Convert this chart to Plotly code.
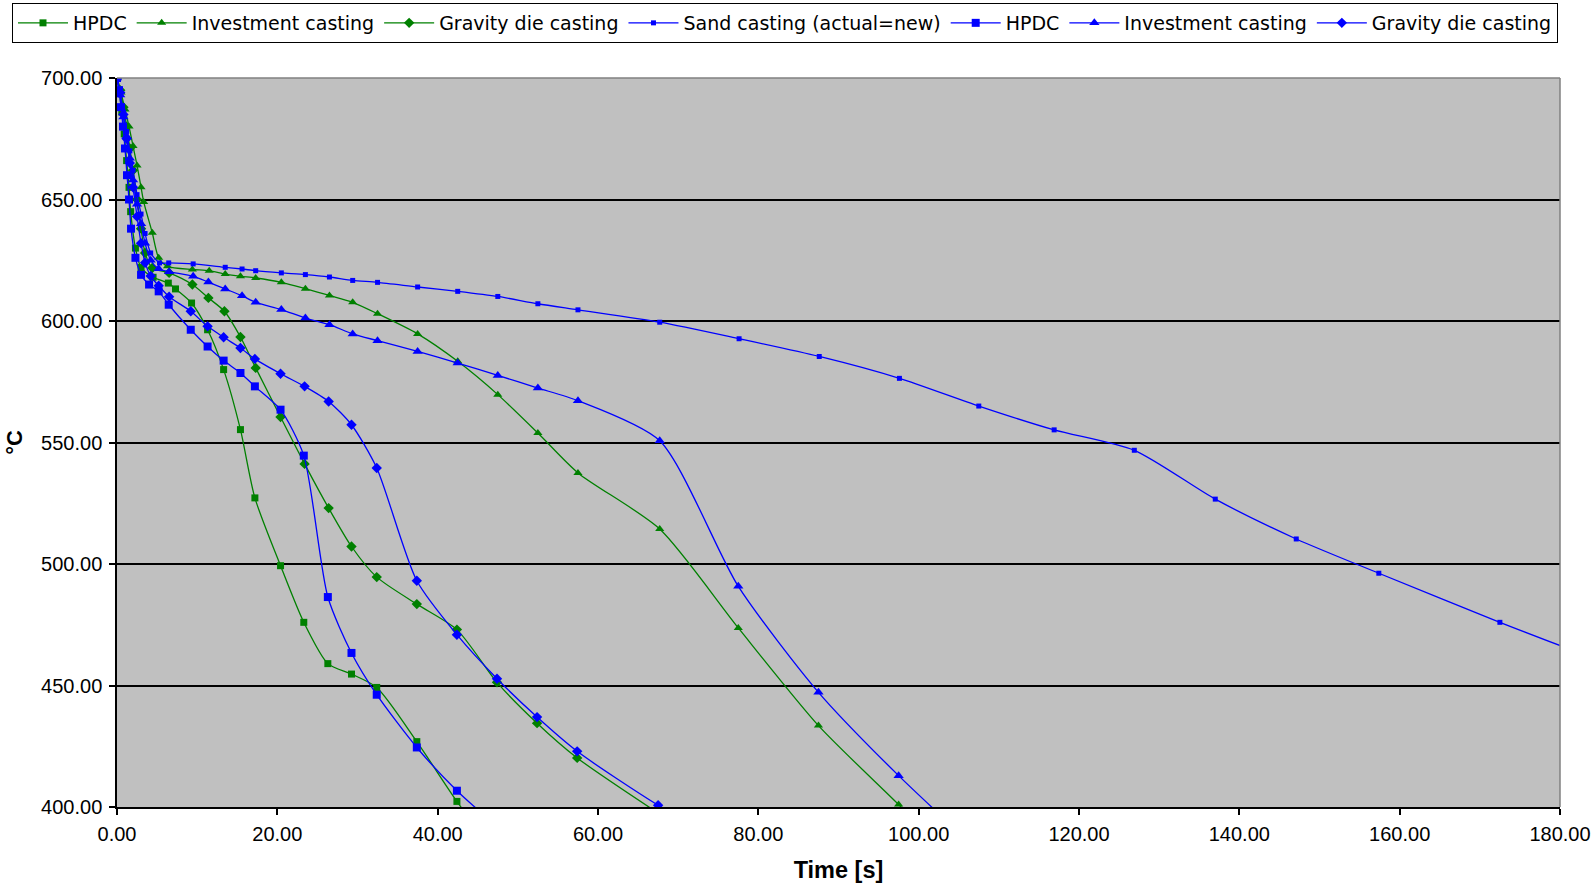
import plotly.graph_objects as go

# ---------------- data (time [s], temperature [°C]) ----------------
# Green series
g_hpdc_t = [0, 0.3, 0.6, 0.9, 1.2, 1.5, 1.7, 2.3, 3.0, 4.5, 6.4, 7.3, 9.3, 11.3, 13.3, 15.4, 17.2,
            20.4, 23.3, 26.3, 29.25, 32.4, 37.4, 42.4, 47.4]
g_hpdc_T = [700, 694, 686, 677, 666, 655, 645, 630, 622, 618, 615.6, 613.2, 607.4, 596.4, 580, 555.3, 527.2,
            499.3, 476, 459, 454.7, 449.2, 426.9, 402.3, 380]

g_inv_t = [0, 0.5, 1.0, 1.5, 2.0, 2.5, 3.0, 3.33, 4.4, 5.2, 6.3, 9.4, 11.5, 13.5, 15.4, 17.3, 20.5, 23.5,
           26.5, 29.4, 32.5, 37.5, 42.5, 47.5, 52.5, 57.5, 67.7, 77.5, 87.5, 97.5, 107.5]
g_inv_T = [700, 694, 687, 680, 672, 664, 655, 649, 636.3, 626, 622.5, 621.2, 620.7, 619.3, 618.4, 617.7, 615.9, 613.3,
           610.5, 607.7, 603, 594.7, 583.4, 569.7, 553.9, 537.5, 514.4, 473.7, 433.5, 401, 368]

g_grav_t = [0, 0.4, 0.8, 1.2, 1.6, 2.0, 2.5, 3.0, 3.5, 4.4, 6.5, 9.4, 11.4, 13.4, 15.4, 17.3, 20.4, 23.4,
            26.4, 29.25, 32.4, 37.4, 42.4, 47.4, 52.4, 57.4, 67.5]
g_grav_T = [700, 695, 688, 680, 671, 662, 650, 638, 628, 621.8, 619.8, 615, 609.5, 604, 593.4, 580.7, 560.5, 541.2,
            523, 507.2, 494.6, 483.5, 473, 451.3, 434.5, 420.2, 397.5]

# Blue series
sand_t = [0, 0.4, 0.8, 1.2, 1.6, 2.0, 2.5, 3.0, 3.5, 4.2, 5.3, 6.45, 9.5, 13.5, 15.6, 17.3, 20.5, 23.5, 26.5,
          29.4, 32.5, 37.5, 42.5, 47.5, 52.5, 57.5, 67.7, 77.6, 87.6, 97.6, 107.5, 116.9, 126.9, 137.0, 147.1,
          157.4, 172.5, 187.5]
sand_T = [700, 693, 686, 678, 670, 662, 652, 644, 636, 628, 623.9, 623.9, 623.5, 622.1, 621.4, 620.7, 619.8, 619.1, 618.1,
          616.7, 615.9, 614, 612.2, 610.1, 607.1, 604.6, 599.5, 592.7, 585.4, 576.4, 565, 555.2, 546.8, 526.7, 510.3,
          496.2, 476, 457]

b_hpdc_t = [0, 0.25, 0.5, 0.75, 1.0, 1.25, 1.5, 1.75, 2.3, 3.0, 4.0, 5.2, 6.45, 9.2, 11.3, 13.3, 15.4, 17.2,
            20.4, 23.3, 26.3, 29.25, 32.4, 37.4, 42.4, 47.4]
b_hpdc_T = [700, 695, 688, 680, 671, 660, 650, 638, 626, 619, 615, 612.2, 606.7, 596.4, 589.5, 583.7, 578.6, 573.1,
            563.5, 544.6, 486.4, 463.4, 446.2, 424.5, 406.7, 392]

b_inv_t = [0, 0.4, 0.8, 1.2, 1.6, 2.0, 2.5, 3.0, 3.5, 4.2, 5.2, 6.5, 9.5, 11.4, 13.5, 15.6, 17.3, 20.5, 23.5,
           26.5, 29.4, 32.5, 37.5, 42.5, 47.5, 52.5, 57.5, 67.7, 77.5, 87.5, 97.5, 107.5]
b_inv_T = [700, 693, 684, 676, 667, 658, 648, 640, 632, 625, 621.5, 620.3, 618.4, 616, 613.2, 610.4, 607.7, 604.7, 601.2,
           598.5, 594.7, 591.9, 587.5, 582.7, 577.6, 572.4, 567.2, 550.7, 490.8, 447.2, 412.9, 382]

b_grav_t = [0, 0.4, 0.8, 1.2, 1.6, 2.0, 2.5, 3.0, 3.5, 4.2, 5.2, 6.5, 9.2, 11.3, 13.3, 15.4, 17.2, 20.4, 23.4,
            26.4, 29.25, 32.4, 37.4, 42.4, 47.4, 52.4, 57.4, 67.5, 77.5]
b_grav_T = [700, 694, 685, 675, 665, 655, 643, 632, 624, 618.5, 614.5, 610, 604, 597.8, 593.3, 588.9, 584.4, 578.3, 573.1,
            566.9, 557.3, 539.5, 493.1, 470.9, 452.8, 437, 422.9, 400.7, 382]

names = ["HPDC", "Investment casting", "Gravity die casting", "Sand casting (actual=new)",
         "HPDC", "Investment casting", "Gravity die casting"]

x_ticks = [0, 20, 40, 60, 80, 100, 120, 140, 160, 180]
y_ticks = [400, 450, 500, 550, 600, 650, 700]

# ---------------- figure ----------------
GREEN = "#008000"
BLUE = "#0000FF"
series = [
    (g_hpdc_t, g_hpdc_T, GREEN, "square", 7),
    (g_inv_t, g_inv_T, GREEN, "triangle-up", 8),
    (g_grav_t, g_grav_T, GREEN, "diamond", 8),
    (sand_t, sand_T, BLUE, "square", 5),
    (b_hpdc_t, b_hpdc_T, BLUE, "square", 8),
    (b_inv_t, b_inv_T, BLUE, "triangle-up", 9),
    (b_grav_t, b_grav_T, BLUE, "diamond", 8),
]

fig = go.Figure()
for (t, T, col, sym, sz), nm in zip(series, names):
    fig.add_trace(go.Scatter(
        x=t, y=T, name=nm, mode="lines+markers",
        line=dict(color=col, width=1.3, shape="spline", smoothing=0.7),
        marker=dict(symbol=sym, size=sz, color=col, line=dict(width=0)),
    ))

W, H = 1592, 883
ML, MR, MT, MB = 117, 32, 78, 76
PW, PH = W - ML - MR, H - MT - MB

FONT = "Liberation Sans, Arial, sans-serif"
LEGFONT = "DejaVu Sans, sans-serif"
fig.update_layout(
    width=W, height=H,
    margin=dict(l=ML, r=MR, t=MT, b=MB, autoexpand=False),
    paper_bgcolor="white",
    plot_bgcolor="#C0C0C0",
    font=dict(family=FONT, size=20, color="black"),
    showlegend=True,
    legend=dict(
        orientation="h", xref="paper", yref="paper",
        x=(12 - ML) / PW, y=1 + (MT - 3) / PH, xanchor="left", yanchor="top",
        bgcolor="white", bordercolor="black", borderwidth=1,
        font=dict(family=LEGFONT, size=19, color="black"),
        itemwidth=50, tracegroupgap=0,
    ),
    xaxis=dict(
        range=[0, 180], tickvals=x_ticks, tickformat=".2f",
        showgrid=False, zeroline=False, automargin=False,
        showline=True, linecolor="black", linewidth=1.5,
        ticks="outside", ticklen=6, tickcolor="black", tickwidth=1.5,
        ticklabelstandoff=2,
        tickfont=dict(family=FONT, size=20),
        title=dict(text="<b>Time [s]</b>", font=dict(family=FONT, size=23.5), standoff=20),
    ),
    yaxis=dict(
        range=[400, 700], tickvals=y_ticks, tickformat=".2f",
        showgrid=True, gridcolor="black", gridwidth=1.5, zeroline=False, automargin=False,
        showline=True, linecolor="black", linewidth=1.5,
        ticks="outside", ticklen=6, tickcolor="black", tickwidth=1.5,
        ticklabelstandoff=3,
        tickfont=dict(family=FONT, size=20),
        title=dict(text="<b>°C</b>", font=dict(family=FONT, size=22), standoff=12),
    ),
)

# grey plot-area frame (top and right), as in the original chart
fig.add_shape(type="line", xref="paper", yref="paper", x0=0, x1=1, y0=1, y1=1,
              line=dict(color="#808080", width=1.5), layer="above")
fig.add_shape(type="line", xref="paper", yref="paper", x0=1, x1=1, y0=0, y1=1,
              line=dict(color="#808080", width=1.5), layer="above")

fig.write_html("out.html")
